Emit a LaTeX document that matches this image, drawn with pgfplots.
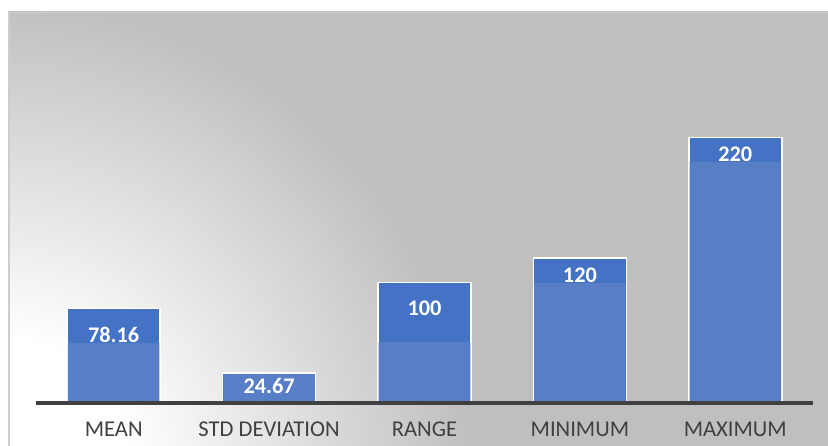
\documentclass[border=0pt]{standalone}
\usepackage{pgfplots}
\pgfplotsset{compat=1.18}
\usepackage{fontspec}
\setmainfont{Carlito}
\definecolor{bggray}{HTML}{BFBFBF}
\definecolor{darkblue}{HTML}{4472C4}
\definecolor{lightblue}{HTML}{587FC6}
\definecolor{axisgray}{HTML}{404040}
\definecolor{labelgray}{HTML}{404040}
\definecolor{bordergray}{HTML}{CDCDCD}
\pgfdeclareradialshading{bgshade}{\pgfpointorigin}{color(0bp)=(white); color(130bp)=(white); color(470bp)=(bggray); color(1000bp)=(bggray)}
\begin{document}
\begin{tikzpicture}
\useasboundingbox (0pt,0pt) rectangle (828pt,446pt);
\begin{scope}
\clip (8pt,0pt) rectangle (828pt,434pt);
\node[inner sep=0pt, outer sep=0pt] at (0pt,-24pt) {\pgfuseshading{bgshade}};
\end{scope}
\draw[bordergray, line width=1.5pt] (8.75pt,-1pt) -- (8.75pt,433.25pt) -- (830pt,433.25pt);
\begin{axis}[
  at={(36pt,43pt)}, anchor=south west,
  scale only axis, width=777pt, height=362.1pt,
  xmin=-0.5, xmax=4.5, ymin=0, ymax=300,
  axis x line=bottom, axis y line=none,
  axis line style={-},
  x axis line style={line width=4pt, draw=axisgray},
  axis on top=true,
  clip=false,
  xtick={0,1,2,3,4},
  xticklabels={MEAN,STD DEVIATION,RANGE,MINIMUM,MAXIMUM},
  major tick length=0pt,
  tick style={draw=none},
  xticklabel style={font=\fontsize{22.6}{22.6}\selectfont, text=labelgray, anchor=base, yshift=-34pt},
]
\addplot[ybar, bar width=93pt, bar shift=0pt, fill=darkblue, draw=white, line width=1.5pt]
  coordinates {(0,78.16) (1,24.67) (2,100) (3,120) (4,220)};
\addplot[ybar, bar width=91.5pt, bar shift=0pt, fill=lightblue, draw=none]
  coordinates {(0,49.7) (1,24.0) (2,50.5) (3,99.4) (4,199.7)};
\addplot[draw=none, mark=none, nodes near coords, point meta=explicit symbolic,
  every node near coord/.append style={anchor=center, inner sep=0pt, font=\bfseries\fontsize{22.3}{22.3}\selectfont, text=white}]
  table[meta=label] {
x y label
0 56.3 78.16
1 13.7 24.67
2 78.7 100
3 106 120
4 205.9 220
};
\end{axis}
\end{tikzpicture}
\end{document}
